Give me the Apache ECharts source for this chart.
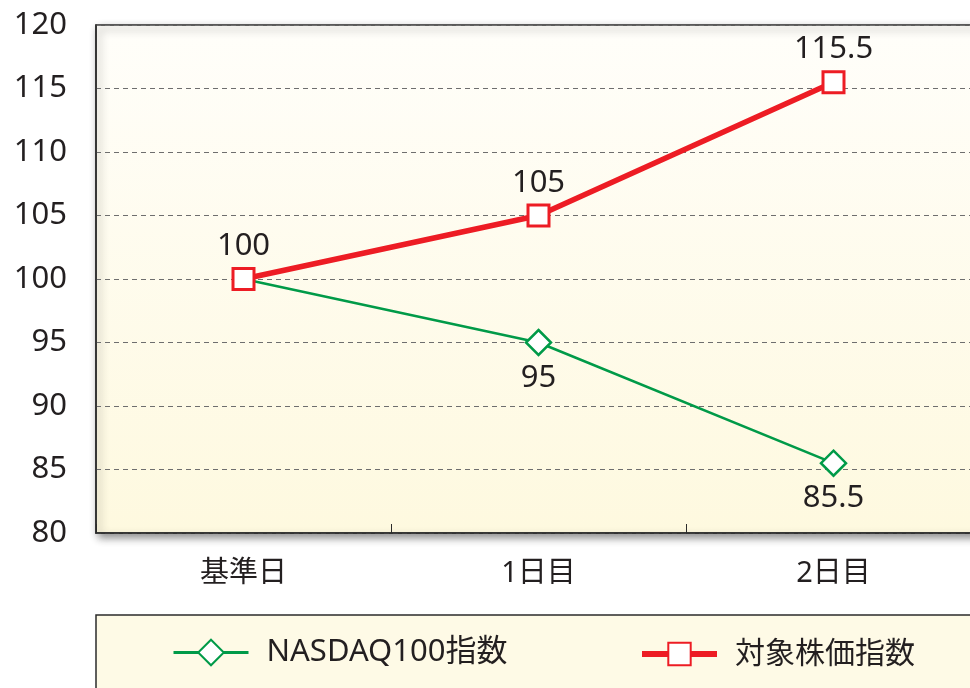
<!DOCTYPE html>
<html>
<head>
<meta charset="utf-8">
<script src="https://cdn.jsdelivr.net/npm/echarts@6/dist/echarts.min.js"></script>
<style>
  html, body { margin: 0; padding: 0; background: #ffffff; }
  #chart { width: 970px; height: 688px; }
</style>
</head>
<body>
<div id="chart"></div>
<script>
// Categories and index values
const categories = ['基準日', '1日目', '2日目'];
const nasdaqName = 'NASDAQ100指数';
const nasdaqValues = [100, 95, 85.5];
const stockName = '対象株価指数';
const stockValues = [100, 105, 115.5];
const yMin = 80;
const yMax = 120;
const yStep = 5;

const FONT = "'Noto Sans', 'Noto Sans CJK JP', sans-serif";
const TEXT = '#231f20';
const GREEN = '#009a48';
const RED = '#ed1c24';

// The shared starting point is marked only by the red square
const nasdaqData = nasdaqValues.map((v, i) => (i === 0 ? { value: v, symbol: 'none' } : v));

const chart = echarts.init(document.getElementById('chart'), null, { renderer: 'canvas' });

chart.setOption({
  animation: false,
  backgroundColor: '#ffffff',
  textStyle: { fontFamily: FONT, color: TEXT },
  graphic: [
    {
      type: 'rect',
      z: -10,
      shape: { x: 96, y: 615, width: 900, height: 120 },
      style: { fill: '#fefae6', stroke: '#2b2b2b', lineWidth: 1.5 }
    }
  ],
  grid: {
    show: true,
    left: 96,
    top: 25,
    width: 885,
    height: 508,
    containLabel: false,
    outerBoundsMode: 'none',
    borderColor: '#2b2b2b',
    borderWidth: 1.5,
    backgroundColor: {
      type: 'linear', x: 0, y: 0, x2: 0, y2: 1,
      colorStops: [
        { offset: 0, color: '#fffefa' },
        { offset: 1, color: '#fef9df' }
      ]
    },
    shadowColor: 'rgba(0,0,0,0.45)',
    shadowBlur: 8,
    shadowOffsetX: 3,
    shadowOffsetY: 4
  },
  legend: [
    {
      data: [nasdaqName],
      left: 172,
      top: 637,
      padding: 0,
      itemWidth: 75,
      itemHeight: 32,
      lineStyle: { width: 3 },
      textStyle: { fontFamily: FONT, fontSize: 31, color: TEXT, padding: [0, 0, 0, 13] }
    },
    {
      data: [stockName],
      left: 639,
      top: 639,
      padding: 0,
      itemWidth: 75,
      itemHeight: 28,
      lineStyle: { width: 6 },
      textStyle: { fontFamily: FONT, fontSize: 30, color: TEXT, padding: [0, 0, 0, 13] }
    }
  ],
  xAxis: {
    type: 'category',
    data: categories,
    boundaryGap: true,
    axisLine: { show: true, lineStyle: { color: '#2b2b2b', width: 1.5 } },
    axisTick: { show: true, inside: true, length: 9, lineStyle: { color: '#2b2b2b', width: 1 } },
    axisLabel: { fontFamily: FONT, fontSize: 29, color: TEXT, margin: 26 },
    splitLine: { show: false }
  },
  yAxis: {
    type: 'value',
    min: yMin,
    max: yMax,
    interval: yStep,
    axisLine: { show: true, lineStyle: { color: '#2b2b2b', width: 1.5 } },
    axisTick: { show: false },
    axisLabel: { fontFamily: FONT, fontSize: 31, color: TEXT, margin: 29 },
    splitLine: { show: true, lineStyle: { color: '#6e6e6e', width: 1, type: [5, 4] } }
  },
  series: [
    {
      name: nasdaqName,
      type: 'line',
      data: nasdaqData,
      symbol: 'diamond',
      symbolSize: 25,
      lineStyle: { color: GREEN, width: 2.5 },
      itemStyle: { color: '#ffffff', borderColor: GREEN, borderWidth: 2.5 },
      label: {
        show: true,
        position: 'bottom',
        distance: 6,
        fontFamily: FONT,
        fontSize: 31,
        color: TEXT,
        formatter: (p) => (p.dataIndex === 0 ? '' : String(p.value))
      },
      z: 2
    },
    {
      name: stockName,
      type: 'line',
      data: stockValues,
      symbol: 'rect',
      symbolSize: 21,
      lineStyle: { color: RED, width: 5.5 },
      itemStyle: { color: '#ffffff', borderColor: RED, borderWidth: 3 },
      label: {
        show: true,
        position: 'top',
        distance: 5,
        fontFamily: FONT,
        fontSize: 31,
        color: TEXT,
        formatter: (p) => String(p.value)
      },
      z: 3
    }
  ]
});
</script>
</body>
</html>
